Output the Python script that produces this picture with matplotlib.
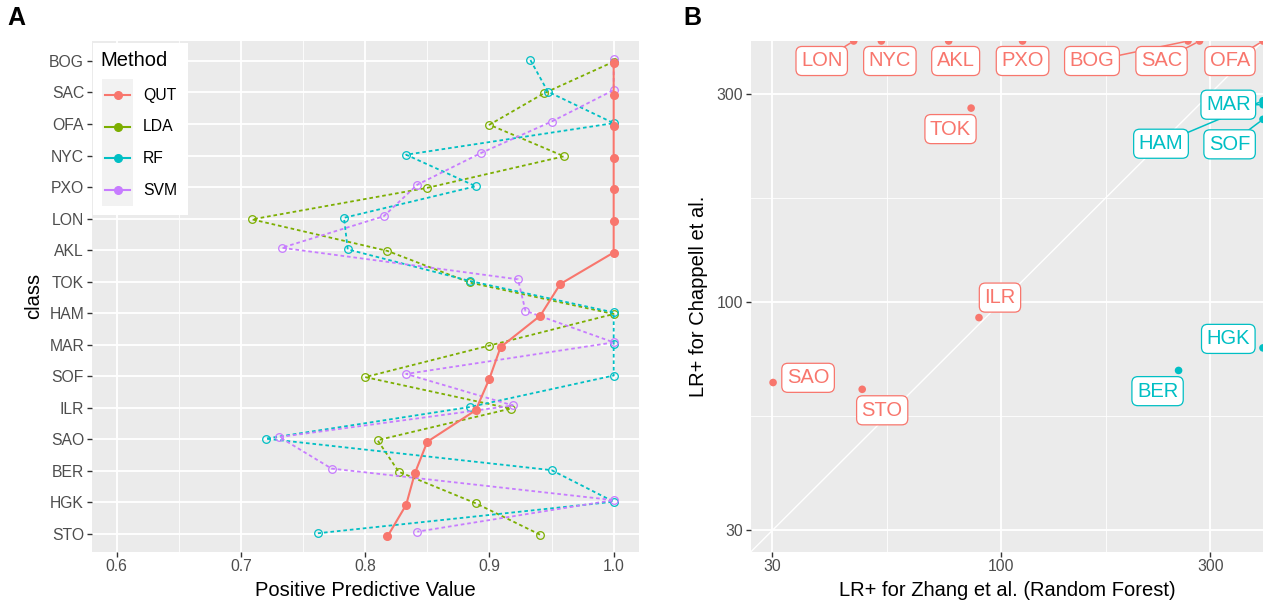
import numpy as np
import matplotlib.pyplot as plt
from matplotlib.patches import Rectangle
from matplotlib.lines import Line2D

plt.rcParams['font.family'] = ['Liberation Sans', 'DejaVu Sans']

W, H = 1263, 603

# ---- panel A data: positive predictive value per class and method ----
classes = ['BOG', 'SAC', 'OFA', 'NYC', 'PXO', 'LON', 'AKL', 'TOK',
           'HAM', 'MAR', 'SOF', 'ILR', 'SAO', 'BER', 'HGK', 'STO']
methods = ['QUT', 'LDA', 'RF', 'SVM']
ppv_qut = [1.0, 1.0, 1.0, 1.0, 1.0, 1.0, 1.0, 0.957,
           0.941, 0.909, 0.900, 0.889, 0.850, 0.840, 0.833, 0.818]
ppv_lda = [1.0, 0.944, 0.900, 0.960, 0.850, 0.709, 0.818, 0.884,
           1.0, 0.900, 0.800, 0.917, 0.810, 0.827, 0.889, 0.941]
ppv_rf = [0.933, 0.947, 1.0, 0.833, 0.889, 0.783, 0.786, 0.884,
          1.0, 1.0, 1.0, 0.884, 0.720, 0.950, 1.0, 0.762]
ppv_svm = [1.0, 1.0, 0.950, 0.893, 0.842, 0.815, 0.733, 0.923,
           0.929, 1.0, 0.833, 0.919, 0.731, 0.773, 1.0, 0.842]

# ---- panel B data: LR+ per class (off-scale values sit at the limit) ----
b_class = ['LON', 'NYC', 'AKL', 'PXO', 'BOG', 'SAC', 'OFA', 'TOK',
           'ILR', 'SAO', 'STO', 'HAM', 'MAR', 'SOF', 'BER', 'HGK']
lr_zhang = [46.0, 53.2, 75.8, 111.8, 266.9, 283.6, 396, 85.3,
            88.9, 30.1, 48.1, 396, 396, 396, 254, 396]
lr_chappell = [396, 396, 396, 396, 396, 396, 396, 278,
               92.1, 65.4, 63.1, 289, 283, 262, 69.7, 78.5]
b_higher = ['Chappell'] * 11 + ['Zhang'] * 5

colors = {'QUT': '#F8766D', 'LDA': '#7CAE00', 'RF': '#00BFC4', 'SVM': '#C77CFF'}
group_colors = {'Chappell': '#F8766D', 'Zhang': '#00BFC4'}
dodge = {'QUT': 0.075, 'LDA': 0.025, 'RF': -0.025, 'SVM': -0.075}

fig = plt.figure(figsize=(W / 100, H / 100), dpi=100)


def fx(px):
    return px / W


def fy(py):
    return 1 - py / H


def style_axes(ax):
    ax.set_facecolor('#EBEBEB')
    for s in ax.spines.values():
        s.set_visible(False)
    ax.grid(which='major', color='white', lw=1.3)
    ax.grid(which='minor', color='white', lw=0.6)
    ax.set_axisbelow(True)
    ax.tick_params(which='major', length=3.5, width=1, color='#333333',
                   labelcolor='#4D4D4D', labelsize=11.3, pad=2)
    ax.tick_params(which='minor', length=0)


# ---------------- panel A ----------------
axa = fig.add_axes([fx(91.7), fy(551.7), (639.3 - 91.7) / W, (551.7 - 41) / H])
style_axes(axa)
ypos = np.arange(len(classes))
series = {'QUT': ppv_qut, 'LDA': ppv_lda, 'RF': ppv_rf, 'SVM': ppv_svm}
for m in methods:
    yy = ypos + dodge[m]
    if m == 'QUT':
        axa.plot(series[m], yy, '-', color=colors[m], lw=1.5, zorder=4)
        axa.plot(series[m], yy, 'o', color=colors[m], ms=5.5, zorder=4)
    else:
        axa.plot(series[m], yy, color=colors[m], lw=1.3, ls=(0, (2, 1.6)), zorder=3)
        axa.plot(series[m], yy, 'o', mfc='none', mec=colors[m], mew=0.9, ms=5.5, zorder=3)

axa.set_xlim(0.58, 1.0206)
axa.set_ylim(len(classes) - 0.44, -0.63)
axa.set_xticks([0.6, 0.7, 0.8, 0.9, 1.0], labels=['0.6', '0.7', '0.8', '0.9', '1.0'])
axa.set_xticks([0.65, 0.75, 0.85, 0.95], minor=True)
axa.set_yticks(ypos, labels=classes)
axa.set_xlabel('Positive Predictive Value', fontsize=14.5)
axa.set_ylabel('class', fontsize=14.5)
axa.xaxis.set_label_coords(fx(365), fy(590), transform=fig.transFigure)
axa.xaxis.label.set_va('center')
axa.yaxis.set_label_coords(fx(34), fy(296), transform=fig.transFigure)
axa.yaxis.label.set_va('center')

# legend drawn by hand to get the ggplot look
fig.add_artist(Rectangle((fx(93), fy(215)), 95 / W, 172 / H, transform=fig.transFigure,
                         fc='white', ec='none', zorder=5))
fig.add_artist(Rectangle((fx(102), fy(206)), 31 / W, 127 / H, transform=fig.transFigure,
                         fc='#F2F2F2', ec='none', zorder=6))
fig.text(fx(100), fy(61), 'Method', fontsize=14.5, va='center', ha='left', zorder=7)
for i, m in enumerate(methods):
    yk = 95 + i * 31.7
    fig.add_artist(Line2D([fx(105), fx(130)], [fy(yk), fy(yk)], transform=fig.transFigure,
                          color=colors[m], lw=1.5, zorder=7))
    fig.add_artist(Line2D([fx(117.5)], [fy(yk)], transform=fig.transFigure, marker='o',
                          color=colors[m], ms=5.5, zorder=8))
    fig.text(fx(143), fy(yk), m, fontsize=11.3, va='center', ha='left', zorder=7)

# ---------------- panel B ----------------
axb = fig.add_axes([fx(751), fy(551.7), (1263 - 751) / W, (551.7 - 41) / H])
style_axes(axb)
axb.set_xscale('log')
axb.set_yscale('log')
lo, hi = 26.8, 396
axb.set_xlim(lo, hi)
axb.set_ylim(lo, hi)
axb.set_xticks([30, 100, 300], labels=['30', '100', '300'])
axb.set_yticks([30, 100, 300], labels=['30', '100', '300'])
axb.set_xticks([np.sqrt(3000), np.sqrt(30000)], minor=True)
axb.set_yticks([np.sqrt(3000), np.sqrt(30000)], minor=True)
axb.xaxis.set_minor_formatter(plt.NullFormatter())
axb.yaxis.set_minor_formatter(plt.NullFormatter())
axb.plot([lo, hi], [lo, hi], color='white', lw=1.0, zorder=1.5)

pt_colors = [group_colors[g] for g in b_higher]
axb.scatter(lr_zhang, lr_chappell, s=30, c=pt_colors, zorder=3, linewidths=0)

# label offsets in pixels (repel placement) and which ones get a leader line
label_offset = {'LON': (-32, -20), 'NYC': (8.5, -20), 'AKL': (7, -20), 'PXO': (0, -20),
                'BOG': (-96, -20), 'SAC': (-38, -20), 'OFA': (-33, -20), 'TOK': (-20.6, -21),
                'ILR': (21, 20), 'SAO': (35, 4.7), 'STO': (20, -21), 'BER': (-21, -20.7),
                'HGK': (-34.7, 9), 'MAR': (-34.7, 0), 'HAM': (-102, -43), 'SOF': (-33.4, -25)}
leaders = {'LON', 'BOG', 'SAC', 'OFA', 'HAM', 'SOF', 'MAR'}

for name, xv, yv, c in zip(b_class, lr_zhang, lr_chappell, pt_colors):
    if name in leaders:
        axb.annotate('', xy=(xv, yv), xytext=label_offset[name], textcoords='offset pixels',
                     arrowprops=dict(arrowstyle='-', color=c, lw=1.1, shrinkA=0, shrinkB=3),
                     annotation_clip=False, zorder=4)
for name, xv, yv, c in zip(b_class, lr_zhang, lr_chappell, pt_colors):
    axb.annotate(name, xy=(xv, yv), xytext=label_offset[name], textcoords='offset pixels',
                 ha='center', va='center', fontsize=14.5, color=c,
                 bbox=dict(boxstyle='round,pad=0.25,rounding_size=0.3', fc='white', ec=c, lw=0.9),
                 annotation_clip=False, zorder=5)

axb.set_xlabel('LR+ for Zhang et al. (Random Forest)', fontsize=14.5)
axb.set_ylabel('LR+ for Chappell et al.', fontsize=14.5)
axb.xaxis.set_label_coords(fx(1007), fy(590), transform=fig.transFigure)
axb.xaxis.label.set_va('center')
axb.yaxis.set_label_coords(fx(699), fy(296), transform=fig.transFigure)
axb.yaxis.label.set_va('center')

fig.text(fx(7), fy(18), 'A', fontsize=18, fontweight='bold', va='center', ha='left')
fig.text(fx(683), fy(18), 'B', fontsize=18, fontweight='bold', va='center', ha='left')

fig.savefig('out.png', dpi=100)
